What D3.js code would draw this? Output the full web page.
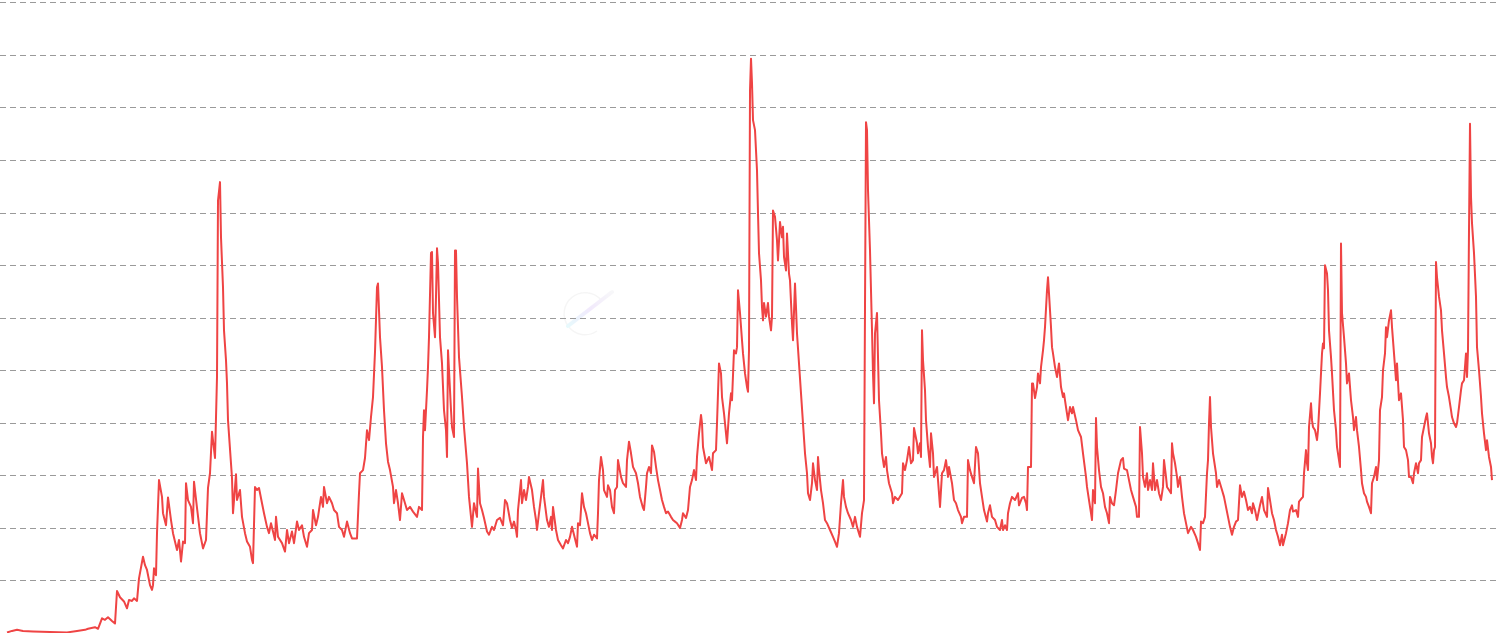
<!DOCTYPE html>
<html>
<head>
<meta charset="utf-8">
<script src="https://cdn.jsdelivr.net/npm/d3@7/dist/d3.min.js"></script>
<style>
html,body{margin:0;padding:0;background:#fff;overflow:hidden;}
svg{display:block;}
</style>
</head>
<body>
<svg id="chart" width="1500" height="633"></svg>
<script>
// time index (sample position along the series)
const t = [
7,12,17,23,33,50,67,77,85,88,95,98,102,105,108,112,115,117,120,124,127,129,132,134,137,139,143,145,147,150,152,153,154,156,157,159,
162,163,166,168,171,173,177,179,181,183,185,186,188,191,193,194,197,200,203,206,208,210,212,215,217,218,220,221,223,224,226,227,228,230,232,233,236,237,240,242,245,247,250,252,253,255,
257,259,262,264,267,269,271,273,275,276,278,282,285,287,289,292,294,297,299,302,304,307,309,312,313,316,318,321,323,324,327,329,332,334,337,339,342,344,347,350,352,355,357,359,360,363,365,367,369,371,373,375,377,378,380,382,384,386,388,390,393,394,396,398,400,402,405,407,410,413,417,419,422,423,424,425,427,428,429,431,432,433,435,436,437,438,440,442,444,446,447,448,449,451,452,454,455,456,457,459,462,464,467,469,472,474,477,478,480,482,484,487,489,492,494,497,500,
503,505,507,510,512,514,516,517,518,521,522,524,526,528,529,532,534,536,537,539,541,543,544,547,549,551,552,553,556,558,561,563,566,568,570,572,574,577,578,580,582,584,586,588,590,592,594,597,598,599,601,603,604,607,608,610,612,614,615,617,618,621,623,626,627,629,631,633,636,638,640,643,644,646,647,649,651,652,654,656,658,660,662,664,666,668,671,673,675,677,680,682,683,686,688,690,692,694,696,697,699,701,
702,703,706,709,712,713,716,717,719,721,722,724,726,727,729,731,732,734,736,737,738,740,742,743,745,747,748,749,750,751,752,753,755,757,758,759,761,762,763,764,766,768,769,771,772,773,775,777,778,780,782,783,784,786,787,789,790,792,793,795,796,797,799,801,803,805,807,808,810,812,813,815,817,818,819,821,823,825,827,830,833,835,837,839,841,843,844,846,848,851,853,855,857,860,862,863,864,865,866,867,868,870,872,873,874,875,877,878,879,881,882,884,886,887,889,892,893,895,898,
902,903,905,907,909,911,913,914,917,918,920,921,922,923,925,926,928,930,931,933,934,937,939,940,942,944,946,948,949,952,954,956,958,961,962,964,967,968,970,972,974,976,978,980,982,984,987,988,990,992,995,997,1000,
1002,1003,1005,1007,1008,1010,1012,1015,1018,1019,1022,1024,1026,1027,1028,1031,1032,1033,1035,1037,1038,1040,1041,1043,1044,1045,1047,1048,1049,1051,1052,1053,1055,1057,1059,1061,1063,1064,1066,1068,1070,1072,1073,1076,1078,1081,1083,1086,1087,1089,1091,1092,1093,1095,1096,1097,1099,1101,1103,1105,1107,1109,1110,1112,1114,1116,1118,1121,1123,1124,1127,1129,1131,1133,1136,1137,1139,1140,1142,1143,1145,1147,1148,1150,1152,1153,1155,1157,1159,1161,1163,1164,1166,1167,1169,1171,1172,1173,1175,1177,1178,1180,1182,1184,1186,1188,1191,1193,1196,1198,1200,1201,1203,1205,1207,1208,1209,1210,1211,1213,1216,1217,1219,1222,1224,1226,1228,1230,1232,1234,1236,1238,1240,1242,1244,1246,1248,
1250,1252,1253,1255,1257,1260,1262,1264,1267,1268,1270,1272,1274,1276,1278,1280,1282,1283,1286,1288,1290,1292,1293,1296,1298,1299,1302,1303,1304,1306,1307,1308,1309,1311,1312,1313,1315,1317,1318,1320,1322,1323,1324,1325,1327,1328,1329,1331,1332,1334,1336,1337,1339,1340,1341,1342,1344,1346,1347,1349,1351,1353,1354,1356,1357,1359,1361,1362,1364,1366,1367,1369,1371,1372,1374,1376,1377,1379,1380,1382,1383,1385,1386,1387,1389,1391,1392,1394,1396,1397,1399,1401,1403,1404,1406,1408,1409,1411,1413,1414,1416,1418,1419,1421,1422,1424,1426,1427,1429,1431,1432,1433,1434,1435,1436,1437,1439,1441,1442,1444,1446,1447,1449,1451,1452,1454,1456,1457,1459,1461,1462,1464,1466,1467,1468,1469,1470,1471,1472,1474,1476,1477,1479,1481,1482,1484,1486,1487,1489,1491,1492
];
const values = [
0.01,0.04,0.06,0.04,0.03,0.02,0.01,0.04,0.06,0.08,0.11,0.08,0.28,0.25,0.3,0.23,0.18,0.8,0.68,0.6,0.47,0.63,0.61,0.66,0.61,1.04,1.45,1.29,1.2,0.91,0.82,0.91,1.23,1.1,1.9,2.91,
2.59,2.28,2.05,2.58,2.15,1.9,1.58,1.77,1.36,1.74,1.71,2.85,2.53,2.4,2.09,2.88,2.38,1.9,1.61,1.77,2.76,3.04,3.83,3.33,4.87,8.23,8.58,7.53,6.58,5.76,5.19,4.75,4.05,3.5,2.95,2.28,3.02,2.53,2.72,2.21,1.9,1.74,1.64,1.39,1.33,2.78,
2.72,2.76,2.47,2.28,2.02,1.9,2.09,1.93,1.77,2.21,1.83,1.71,1.55,1.96,1.71,1.93,1.71,2.12,1.96,2.05,1.83,1.64,1.9,1.96,2.34,2.05,2.21,2.59,2.4,2.78,2.47,2.59,2.47,2.34,2.28,2.02,1.96,1.83,2.12,1.9,1.8,1.8,1.8,2.66,3.04,3.1,3.33,3.86,3.67,4.11,4.49,5.35,6.58,6.65,5.63,5.06,4.24,3.61,3.26,3.1,2.78,2.47,2.72,2.47,2.15,2.66,2.47,2.34,2.4,2.31,2.21,2.4,2.34,3.73,4.24,3.86,4.62,5.06,5.63,7.23,7.25,6.09,5.63,6.4,7.32,7.04,5.63,5.13,4.24,3.86,3.35,5.38,5.0,4.24,3.92,3.73,7.28,7.28,6.4,5.25,4.49,3.92,3.23,2.59,2.02,2.47,2.21,3.13,2.47,2.34,2.19,1.93,1.87,2.02,1.96,2.15,2.19,
2.05,2.53,2.47,2.15,2.0,2.12,1.96,1.83,2.34,2.91,2.47,2.72,2.53,2.78,2.97,2.72,2.4,2.15,1.96,2.28,2.59,2.91,2.59,2.15,2.02,2.21,1.96,2.4,1.96,1.77,1.67,1.61,1.77,1.71,1.83,2.02,1.87,1.64,2.09,2.05,2.66,2.4,2.28,2.09,1.9,1.77,1.87,1.8,2.28,2.91,3.35,3.1,2.72,2.59,2.81,2.72,2.4,2.28,2.72,2.78,3.29,2.97,2.85,2.78,3.29,3.64,3.42,3.16,3.04,2.85,2.59,2.38,2.34,2.78,3.04,3.16,3.04,3.57,3.45,3.16,2.91,2.72,2.53,2.4,2.28,2.31,2.21,2.15,2.12,2.09,2.0,2.15,2.28,2.19,2.34,2.78,2.91,3.1,2.91,3.35,3.8,4.15,
3.99,3.54,3.23,3.35,3.1,3.42,3.48,3.99,5.13,4.94,4.49,4.18,3.8,3.61,4.18,4.56,4.43,5.38,5.32,5.44,6.52,6.09,5.57,5.32,4.94,4.68,4.59,5.38,10.32,10.93,10.46,9.76,9.57,8.8,7.99,7.23,6.71,6.2,5.95,6.28,6.02,6.28,6.02,5.76,6.02,8.04,7.92,7.47,7.09,7.82,7.53,7.73,7.16,6.9,7.6,6.84,6.71,5.89,5.57,6.65,6.2,5.7,5.13,4.56,3.99,3.42,3.04,2.66,2.53,2.85,3.23,2.91,2.72,3.35,3.1,2.72,2.47,2.15,2.09,1.96,1.83,1.74,1.64,1.9,2.47,2.91,2.59,2.4,2.28,2.15,2.02,2.21,2.02,1.83,2.28,2.4,2.53,6.2,9.72,9.57,8.43,7.28,5.76,4.94,4.37,5.7,6.09,5.25,4.43,3.8,3.42,3.16,3.35,3.1,2.85,2.66,2.47,2.59,2.53,
2.66,3.23,3.1,3.29,3.54,3.23,3.29,3.9,3.61,3.42,3.61,3.35,5.76,5.19,4.62,4.05,3.54,3.16,3.8,3.42,2.97,3.16,2.66,2.4,3.04,3.1,3.29,2.97,3.16,2.85,2.53,2.47,2.34,2.21,2.09,2.21,2.21,3.29,3.1,2.97,2.85,3.54,3.42,2.85,2.59,2.34,2.12,2.28,2.43,2.21,2.15,2.02,1.96,
2.15,1.96,2.05,1.96,2.28,2.47,2.59,2.53,2.66,2.43,2.57,2.59,2.47,2.34,3.16,3.16,4.75,4.75,4.47,4.68,4.94,4.75,5.06,5.38,5.57,5.82,6.52,6.77,6.46,5.82,5.44,5.32,5.06,4.87,5.13,4.68,4.49,4.56,4.3,4.05,4.3,4.18,4.3,4.05,3.86,3.73,3.42,2.97,2.78,2.53,2.28,2.15,2.72,2.47,4.09,3.54,3.1,2.78,2.66,2.4,2.28,2.09,2.59,2.47,2.43,2.72,3.04,3.29,3.33,3.13,3.1,2.91,2.72,2.59,2.4,2.21,2.21,3.92,3.42,2.97,2.78,3.04,2.72,2.91,2.72,3.23,2.72,2.91,2.66,2.53,2.78,3.29,2.97,2.78,2.72,2.66,3.61,3.42,3.23,2.97,2.78,2.97,2.59,2.28,2.09,1.9,2.02,1.96,1.83,1.71,1.58,2.12,2.09,2.21,3.04,3.29,3.99,4.49,3.92,3.42,3.04,2.78,2.91,2.72,2.59,2.4,2.21,2.02,1.87,2.02,2.12,2.15,2.81,2.59,2.69,2.53,2.34,
2.4,2.28,2.47,2.34,2.15,2.43,2.59,2.34,2.21,2.76,2.53,2.28,2.15,1.96,1.83,1.67,1.87,1.67,1.9,2.09,2.34,2.43,2.31,2.34,2.21,2.5,2.57,2.59,3.04,3.48,3.23,3.1,3.92,4.37,4.05,3.92,3.86,3.67,3.86,4.56,5.32,5.51,5.42,7.0,6.84,6.52,5.76,5.25,4.94,4.24,3.86,3.54,3.29,3.16,7.41,6.09,5.63,5.13,4.75,4.94,4.43,4.11,3.86,4.11,3.86,3.54,3.1,2.85,2.66,2.59,2.5,2.4,2.28,2.85,2.97,3.16,2.91,3.29,4.24,4.49,5.0,5.32,5.82,5.63,5.95,6.14,5.82,5.32,4.81,5.13,4.43,4.56,4.05,3.54,3.48,3.29,2.97,2.97,2.85,3.04,3.23,3.04,3.23,3.29,3.73,3.92,4.11,4.18,3.8,3.61,3.35,3.23,3.48,3.54,7.06,6.77,6.4,6.14,5.76,5.32,4.87,4.68,4.49,4.24,4.11,3.99,3.92,3.99,4.3,4.62,4.75,4.81,5.32,4.87,5.38,7.66,9.69,8.3,7.8,7.23,6.4,5.44,5.0,4.49,4.18,3.8,3.48,3.67,3.35,3.16,2.91
];
const gridValues = [0,1,2,3,4,5,6,7,8,9,10,11,12];

const W = 1500, H = 633;
const svg = d3.select('#chart');
const x = d3.scaleLinear().domain([7, 1492]).range([7, 1492]);
const y = d3.scaleLinear().domain([0, 12]).range([633, 2.4]);

// watermark
const wm = svg.append('g').attr('opacity', 0.6);
const defs = svg.append('defs');
const grad = defs.append('linearGradient').attr('id','wmg').attr('x1','0%').attr('y1','100%').attr('x2','100%').attr('y2','0%');
grad.append('stop').attr('offset','0%').attr('stop-color','#d8f6fb');
grad.append('stop').attr('offset','50%').attr('stop-color','#e9dcfb');
grad.append('stop').attr('offset','100%').attr('stop-color','#f3f3f6');
wm.append('path')
  .attr('d','M 601 300 A 21 21 0 1 0 597 331')
  .attr('fill','none').attr('stroke','#f0f0f0').attr('stroke-width',1.5);
wm.append('line').attr('x1',568).attr('y1',326).attr('x2',612).attr('y2',292)
  .attr('stroke','url(#wmg)').attr('stroke-width',4).attr('stroke-linecap','round');

// grid
svg.append('g').selectAll('line').data(gridValues).join('line')
  .attr('x1', 0).attr('x2', W)
  .attr('y1', d => Math.round(y(d)) + 0.5).attr('y2', d => Math.round(y(d)) + 0.5)
  .attr('stroke', '#9a9a9a').attr('stroke-width', 1)
  .attr('stroke-dasharray', '6,4');

const data = t.map((d, i) => ({t: d, v: values[i]}));
const line = d3.line().x(d => x(d.t)).y(d => y(d.v));
svg.append('path').datum(data)
  .attr('d', line)
  .attr('fill', 'none')
  .attr('stroke', '#ef4444')
  .attr('stroke-width', 2)
  .attr('stroke-linejoin', 'round');
</script>
</body>
</html>
